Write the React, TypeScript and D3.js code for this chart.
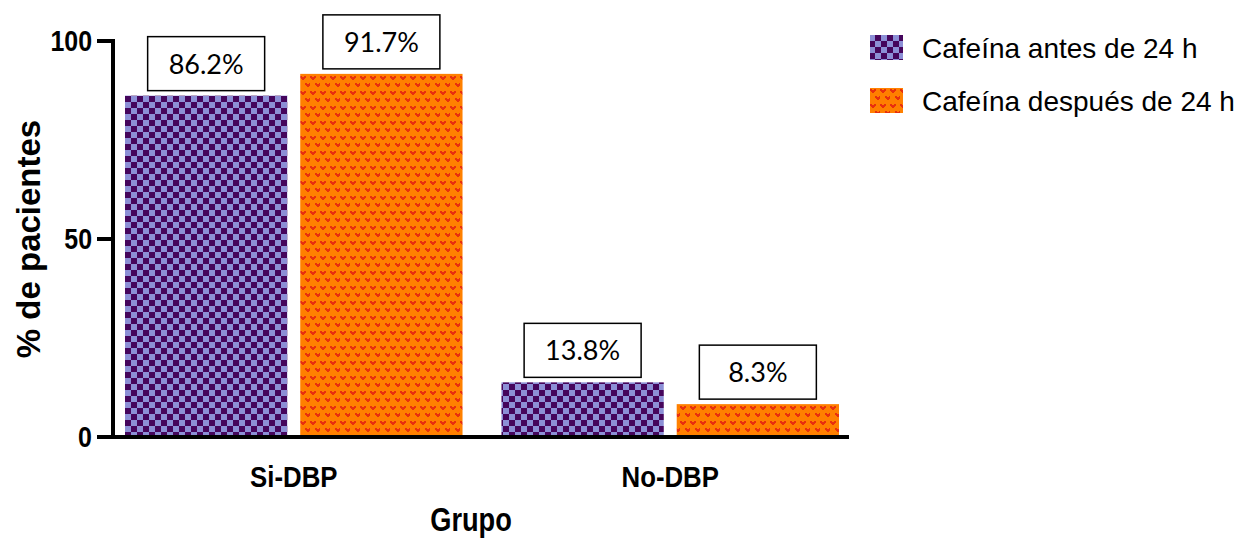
import React from "react";
import * as d3 from "d3";

const groups = ["Si-DBP", "No-DBP"];
const seriesNames = ["Cafeína antes de 24 h", "Cafeína después de 24 h"];
const antes = [86.2, 13.8];
const despues = [91.7, 8.3];
const yTicks = [0, 50, 100];
const yTitle = "% de pacientes";
const xTitle = "Grupo";

const W = 1238;
const H = 539;
const FONT = "'Liberation Sans', Arial, sans-serif";
const SX = 0.86;

export default function App() {
  const y = d3.scaleLinear().domain([0, 100]).range([437, 41]);
  const x0 = d3.scaleBand<string>().domain(groups).range([125, 839]).paddingInner(39 / 377).paddingOuter(0);
  const x1 = d3.scaleBand<string>().domain(seriesNames).range([0, x0.bandwidth()]).paddingInner(13 / 176).paddingOuter(0);
  const values = [antes, despues];
  const fills = ["url(#checker)", "url(#hearts)"];

  const heart = (ox: number, oy: number, key: string) => {
    const rows = ["XX..XX", "XXXXXX", ".XXXX.", "..XX.."];
    const out: React.ReactNode[] = [];
    rows.forEach((r, b) => {
      r.split("").forEach((c, a) => {
        if (c === "X") out.push(<rect key={`${key}${a}_${b}`} x={ox + a} y={oy + b} width={1} height={1} fill="#e8300e" />);
      });
    });
    return out;
  };

  const bars: React.ReactNode[] = [];
  const labels: React.ReactNode[] = [];
  groups.forEach((g, gi) => {
    seriesNames.forEach((s, si) => {
      const v = values[si][gi];
      const bx = (x0(g) ?? 0) + (x1(s) ?? 0);
      const bw = x1.bandwidth();
      const top = y(v);
      bars.push(
        <rect key={`b${gi}${si}`} x={bx} y={top} width={bw} height={y(0) - top} fill={fills[si]} />
      );
      const boxW = 117;
      const boxH = 54;
      const cx = bx + bw / 2;
      const boxBottom = top - 5;
      labels.push(
        <g key={`l${gi}${si}`}>
          <rect x={cx - boxW / 2} y={boxBottom - boxH} width={boxW} height={boxH} fill="#fff" stroke="#000" strokeWidth={1.5} />
          <text x={cx} y={boxBottom - boxH / 2 + 10} textAnchor="middle" fontFamily="Lato, 'Open Sans', sans-serif" fontSize={27} fill="#000">
            {v.toFixed(1)}%
          </text>
        </g>
      );
    });
  });

  return (
    <svg width={W} height={H} style={{ position: "absolute", left: 0, top: 0, background: "#fff" }}>
      <defs>
        <pattern id="checker" patternUnits="userSpaceOnUse" width={12} height={12} x={125} y={0}>
          <rect width={12} height={12} fill="#8c8fd6" />
          <rect x={0} y={0} width={6} height={6} fill="#45055c" />
          <rect x={6} y={6} width={6} height={6} fill="#45055c" />
        </pattern>
        <pattern id="hearts" patternUnits="userSpaceOnUse" width={10} height={15} x={0} y={0}>
          <rect width={10} height={15} fill="#ff8000" />
          {heart(0, 1, "a")}
          {heart(5, 8, "b")}
        </pattern>
      </defs>

      {bars}
      {labels}

      {/* axes */}
      <line x1={113} x2={113} y1={39} y2={439} stroke="#000" strokeWidth={4} />
      <line x1={111} x2={849} y1={437} y2={437} stroke="#000" strokeWidth={4} />
      {yTicks.map((t) => (
        <g key={t}>
          <line x1={97} x2={113} y1={y(t)} y2={y(t)} stroke="#000" strokeWidth={4} />
          <text
            transform={`translate(92,${y(t) + 10}) scale(${SX},1)`}
            textAnchor="end"
            fontFamily={FONT}
            fontWeight="bold"
            fontSize={29}
            fill="#000"
          >
            {t}
          </text>
        </g>
      ))}

      {groups.map((g) => (
        <text
          key={g}
          transform={`translate(${(x0(g) ?? 0) + x0.bandwidth() / 2},487) scale(${SX},1)`}
          textAnchor="middle"
          fontFamily={FONT}
          fontWeight="bold"
          fontSize={30}
          fill="#000"
        >
          {g}
        </text>
      ))}

      <text
        transform={`translate(471,531) scale(0.8,1)`}
        textAnchor="middle"
        fontFamily={FONT}
        fontWeight="bold"
        fontSize={34}
        fill="#000"
      >
        {xTitle}
      </text>

      <text
        transform={`translate(40,239) rotate(-90)`}
        textAnchor="middle"
        fontFamily={FONT}
        fontWeight="bold"
        fontSize={33}
        fill="#000"
      >
        {yTitle}
      </text>

      {/* legend */}
      {seriesNames.map((s, i) => (
        <g key={s} transform={`translate(870,${35 + i * 53})`}>
          <rect x={0} y={0} width={33} height={25} fill={fills[i]} />
          <text x={52} y={23} fontFamily={FONT} fontSize={28} fill="#000">
            {s}
          </text>
        </g>
      ))}
    </svg>
  );
}
